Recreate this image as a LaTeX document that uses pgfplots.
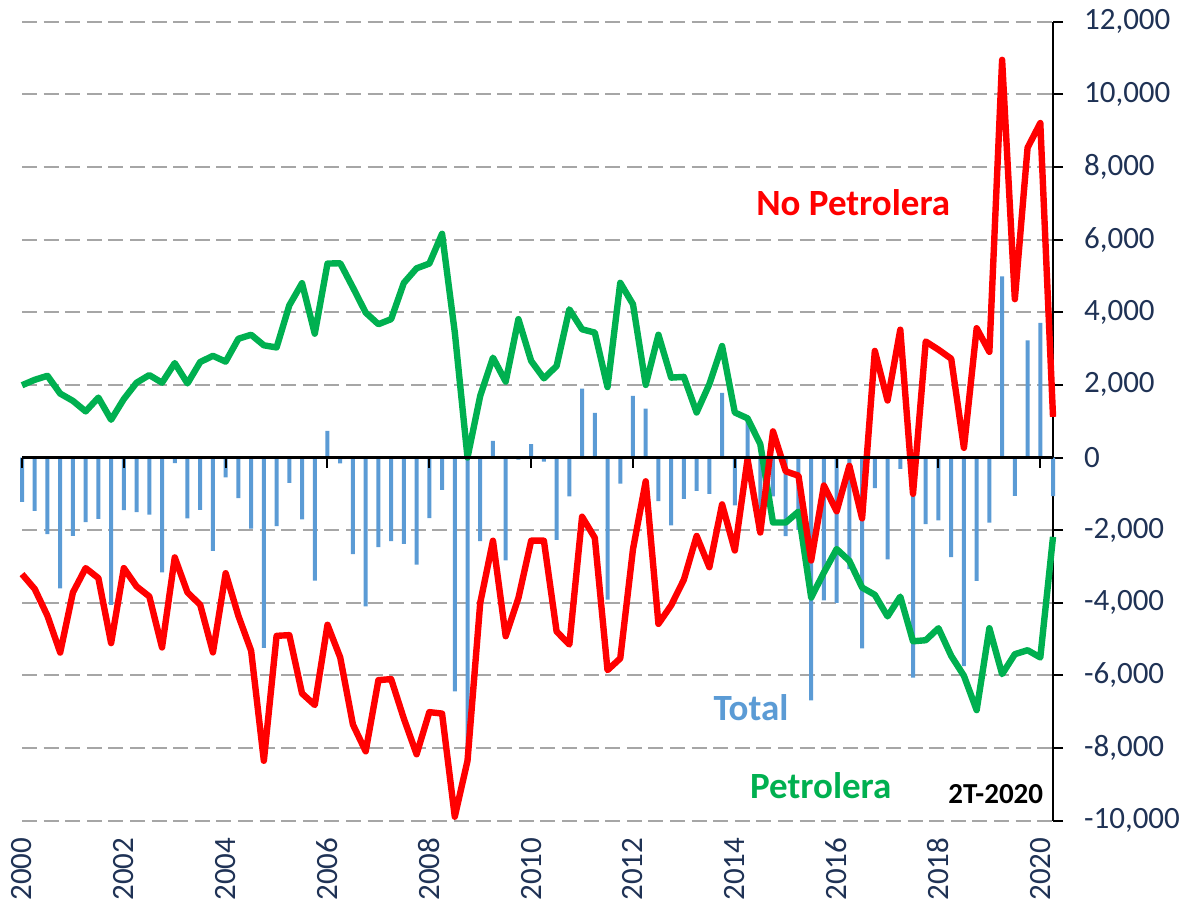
\documentclass[border=0pt]{standalone}
\usepackage{fontspec}
\setmainfont{Carlito}
\usepackage{pgfplots}
\usepackage{pgfplotstable}
\pgfplotsset{compat=1.18}
\definecolor{cred}{RGB}{255,0,0}
\definecolor{cgreen}{RGB}{0,176,80}
\definecolor{cblue}{RGB}{91,155,213}
\definecolor{cnavy}{RGB}{31,50,85}
\definecolor{cgrid}{RGB}{166,166,166}
\pgfplotstableread{
i tot pet nopet
0 -1220 1990 -3210
1 -1470 2140 -3620
2 -2110 2250 -4360
3 -3605 1760 -5370
4 -2155 1560 -3715
5 -1780 1270 -3045
6 -1690 1650 -3320
7 -4060 1040 -5110
8 -1450 1610 -3045
9 -1500 2060 -3550
10 -1570 2270 -3825
11 -3165 2060 -5230
12 -155 2600 -2750
13 -1675 2040 -3715
14 -1440 2630 -4055
15 -2570 2800 -5365
16 -545 2640 -3185
17 -1120 3270 -4360
18 -1960 3380 -5320
19 -5240 3090 -8350
20 -1890 3030 -4910
21 -700 4190 -4890
22 -1705 4800 -6495
23 -3390 3410 -6815
24 735 5340 -4605
25 -160 5350 -5505
26 -2660 4680 -7355
27 -4100 3990 -8090
28 -2470 3670 -6130
29 -2305 3810 -6100
30 -2380 4810 -7190
31 -2950 5210 -8170
32 -1670 5340 -7010
33 -890 6160 -7050
34 -6440 3450 -9890
35 -8350 0 -8350
36 -2300 1700 -4000
37 460 2750 -2290
38 -2830 2090 -4920
39 -60 3810 -3870
40 368 2660 -2290
41 -112 2180 -2290
42 -2270 2520 -4790
43 -1070 4080 -5150
44 1898 3530 -1630
45 1230 3440 -2210
46 -3915 1940 -5855
47 -720 4810 -5530
48 1697 4220 -2525
49 1345 2000 -655
50 -1200 3380 -4580
51 -1870 2200 -4070
52 -1140 2220 -3360
53 -920 1240 -2160
54 -1000 2020 -3020
55 1780 3070 -1290
56 -1320 1240 -2560
57 1035 1080 -45
58 -1695 370 -2065
59 -1070 -1790 720
60 -2165 -1790 -380
61 -1990 -1490 -500
62 -6690 -3855 -2835
63 -3935 -3165 -770
64 -4000 -2520 -1480
65 -3075 -2845 -230
66 -5255 -3580 -1675
67 -845 -3780 2935
68 -2805 -4375 1570
69 -310 -3830 3520
70 -6060 -5060 -1000
71 -1835 -5030 3195
72 -1730 -4700 2970
73 -2740 -5460 2720
74 -5745 -6010 265
75 -3395 -6955 3560
76 -1790 -4700 2910
77 4985 -5965 10950
78 -1055 -5415 4360
79 3225 -5305 8530
80 3705 -5505 9210
81 -1065 -2185 1120
}\data
\begin{document}
\begin{tikzpicture}
\begin{axis}[
  scale only axis, width=515.5pt, height=399.5pt,
  xmin=0, xmax=81, ymin=-10000, ymax=12000,
  enlargelimits=false,
  axis x line*=bottom, axis y line*=right,
  x axis line style={draw=none},
  y axis line style={black, line width=1pt},
  xtick={0,8,...,80},
  xticklabels={2000,2002,2004,2006,2008,2010,2012,2014,2016,2018,2020},
  xtick style={draw=none},
  ytick={-10000,-8000,...,12000},
  ytick style={black, line width=1pt},
  tick align=outside, major tick length=5pt,
  ymajorgrids, grid style={cgrid, line width=1pt, dash pattern=on 7.5pt off 3.3pt},
  scaled y ticks=false,
  /pgf/number format/1000 sep={,},
  /pgf/number format/assume math mode=true,
  tick label style={font=\fontsize{15.5}{18}\selectfont, text=cnavy},
  xticklabel style={rotate=90, anchor=east},
  yticklabel style={xshift=7pt},
  clip=false,
]
\coordinate (BBll) at (rel axis cs:-0.02134,-0.10926);
\coordinate (BBur) at (rel axis cs:1.12609,1.02716);
\addplot[ybar, bar width=2pt, fill=cblue, draw=none] table[x=i, y=tot] {\data};
\addplot[cgreen, line width=3.2pt, line join=round, no markers] table[x=i, y=pet] {\data};
\addplot[cred, line width=3.2pt, line join=round, no markers] table[x=i, y=nopet] {\data};
\draw[black, line width=1.2pt] (axis cs:0,0) -- (axis cs:81,0);
\draw[black, line width=1pt]
  (axis cs:0,0) -- ([yshift=-5pt]axis cs:0,0)
  (axis cs:8,0) -- ([yshift=-5pt]axis cs:8,0)
  (axis cs:16,0) -- ([yshift=-5pt]axis cs:16,0)
  (axis cs:24,0) -- ([yshift=-5pt]axis cs:24,0)
  (axis cs:32,0) -- ([yshift=-5pt]axis cs:32,0)
  (axis cs:40,0) -- ([yshift=-5pt]axis cs:40,0)
  (axis cs:48,0) -- ([yshift=-5pt]axis cs:48,0)
  (axis cs:56,0) -- ([yshift=-5pt]axis cs:56,0)
  (axis cs:64,0) -- ([yshift=-5pt]axis cs:64,0)
  (axis cs:72,0) -- ([yshift=-5pt]axis cs:72,0)
  (axis cs:80,0) -- ([yshift=-5pt]axis cs:80,0);
\node[anchor=base, text=cred, font=\bfseries\fontsize{18.5}{20}\selectfont] at (axis cs:65.3,6655) {No Petrolera};
\node[anchor=base, text=cblue, font=\bfseries\fontsize{18.5}{20}\selectfont] at (axis cs:57.27,-7249) {Total};
\node[anchor=base, text=cgreen, font=\bfseries\fontsize{18.5}{20}\selectfont] at (axis cs:62.75,-9378) {Petrolera};
\node[anchor=base, text=black, font=\bfseries\fontsize{14.5}{16}\selectfont] at (axis cs:76.5,-9526) {2T-2020};
\end{axis}
\pgfresetboundingbox
\useasboundingbox (BBll) rectangle (BBur);
\end{tikzpicture}
\end{document}
